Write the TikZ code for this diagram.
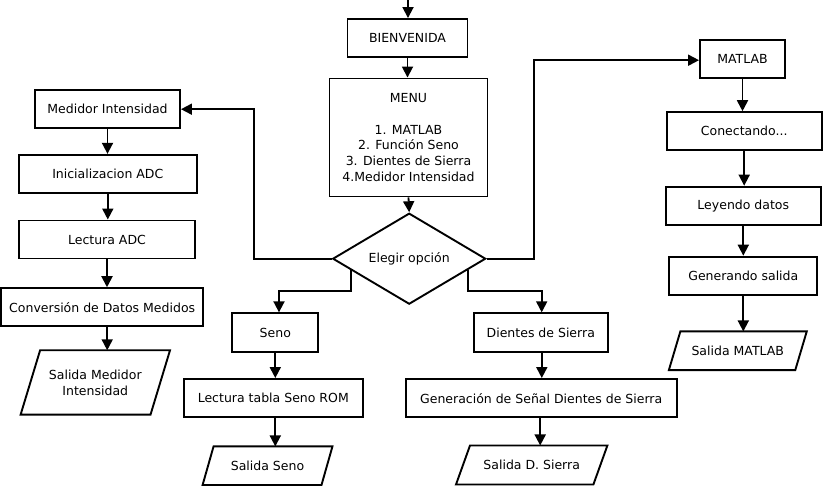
\documentclass[tikz,border=0pt]{standalone}
\usepackage{fontspec}
\setmainfont{DejaVu Sans}
\usetikzlibrary{arrows.meta,shapes.geometric,calc}
\newcommand\drawpara[2]{\draw[line width=1.9pt,line join=miter] (#1.south west) -- ([xshift=#2]#1.north west) -- (#1.north east) -- ([xshift=-#2]#1.south east) -- cycle;}
\begin{document}
\begin{tikzpicture}[x=1pt,y=-1pt,
 every node/.style={font=\fontsize{12.5}{15.8}\selectfont},
 box/.style={draw,line width=1.9pt,rectangle,inner sep=0pt,align=center},
 io/.style={rectangle,inner sep=0pt,align=center},
 arr/.style={line width=1.8pt,-{Triangle[length=11pt,width=11pt]}}]
\useasboundingbox (0,0) rectangle (823,486);
% centre
\node[box,minimum width=120pt,minimum height=38pt] (bien) at (407.5,38) {BIENVENIDA};
\node[box,minimum width=158pt,minimum height=118pt] (menu) at (408.5,137.5) {MENU\\[15.8pt]1. MATLAB\\2. Función Seno\\3. Dientes de Sierra\\4.Medidor Intensidad};
\node[draw,line width=1.9pt,diamond,aspect=1.7,inner sep=0pt,minimum width=153pt,minimum height=91pt] (dia) at (409.2,258.7) {Elegir opción};
% left column
\node[box,minimum width=145pt,minimum height=38pt] (med) at (107.5,109.2) {Medidor Intensidad};
\node[box,minimum width=177.5pt,minimum height=38pt] (ini) at (107.8,173.8) {Inicializacion ADC};
\node[box,minimum width=176pt,minimum height=38pt] (lec) at (107,239.5) {Lectura ADC};
\node[box,minimum width=202pt,minimum height=38pt] (conv) at (102.2,307.2) {Conversión de Datos Medidos};
\node[io,minimum width=149pt,minimum height=64pt] (smed) at (95.3,382.5) {Salida Medidor\\Intensidad};
\drawpara{smed}{19.5pt}
% seno
\node[box,minimum width=86pt,minimum height=38.4pt] (seno) at (275.3,332.5) {Seno};
\node[box,minimum width=178.5pt,minimum height=38.4pt] (tabla) at (273.3,398.2) {Lectura tabla Seno ROM};
\node[io,minimum width=129.5pt,minimum height=38.3pt] (sseno) at (267.5,465.8) {Salida Seno};
\drawpara{sseno}{11pt}
% dientes
\node[box,minimum width=133.7pt,minimum height=38.4pt] (dien) at (540.8,332.5) {Dientes de Sierra};
\node[box,minimum width=271pt,minimum height=38.4pt] (gen) at (541.2,398.2) {Generación de Señal Dientes de Sierra};
\node[io,minimum width=151pt,minimum height=38.6pt] (sdien) at (531.7,465) {Salida D. Sierra};
\drawpara{sdien}{14pt}
% matlab
\node[box,minimum width=85pt,minimum height=38.3pt] (mat) at (742.5,59.2) {MATLAB};
\node[box,minimum width=155pt,minimum height=37.7pt] (con) at (744.2,131) {Conectando...};
\node[box,minimum width=155pt,minimum height=38.3pt] (ley) at (743.3,205.8) {Leyendo datos};
\node[box,minimum width=148pt,minimum height=38.3pt] (gsal) at (743.3,275.8) {Generando salida};
\node[io,minimum width=137.5pt,minimum height=38.3pt] (smat) at (737.8,350.8) {Salida MATLAB};
\drawpara{smat}{11.5pt}
% helper coordinates
\coordinate (start) at (408,0);
\coordinate (kl) at (254,0);
\coordinate (kr) at (534,0);
\coordinate (bl) at (279,290.7);
\coordinate (br) at (541.7,290.7);
% connectors
\draw[arr] (start) -- (start |- bien.north);
\draw[arr] (bien.south) -- (bien.south |- menu.north);
\draw[arr] (menu.south) -- (dia.north);
\draw[arr] (dia.west) -- (dia.west -| kl) |- (med.east);
\draw[arr] (dia.east) -- (dia.east -| kr) |- ([yshift=-1pt]mat.west);
\draw[arr] ($(dia.west)!0.25!(dia.south)$) |- (bl) -- (bl |- seno.north);
\draw[arr] ($(dia.east)!0.24!(dia.south)$) |- (br) -- (br |- dien.north);
\draw[arr] (med.south) -- (med.south |- ini.north);
\draw[arr] (ini.south) -- (ini.south |- lec.north);
\draw[arr] (lec.south) -- (lec.south |- conv.north);
\draw[arr] ([xshift=5pt]conv.south) -- ([xshift=5pt]conv.south |- smed.north);
\draw[arr] (seno.south) -- (seno.south |- tabla.north);
\draw[arr] ([xshift=2pt]tabla.south) -- ([xshift=2pt]tabla.south |- sseno.north);
\draw[arr] ([xshift=1pt]dien.south) -- ([xshift=1pt]dien.south |- gen.north);
\draw[arr] ([xshift=-1pt]gen.south) -- ([xshift=-1pt]gen.south |- sdien.north);
\draw[arr] (mat.south) -- (mat.south |- con.north);
\draw[arr] (con.south) -- (con.south |- ley.north);
\draw[arr] (ley.south) -- (ley.south |- gsal.north);
\draw[arr] (gsal.south) -- (gsal.south |- smat.north);
\end{tikzpicture}
\end{document}
